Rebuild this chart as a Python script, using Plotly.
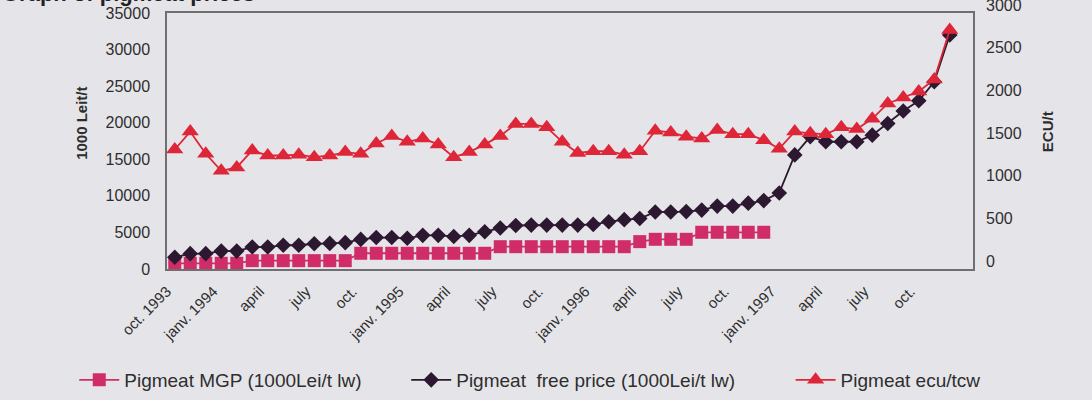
import plotly.graph_objects as go

# ---- data ----
months = list(range(51))  # Oct 1993 ... Dec 1997, monthly
tick_pos = [0, 3, 6, 9, 12, 15, 18, 21, 24, 27, 30, 33, 36, 39, 42, 45, 48]
tick_labels = ["oct. 1993", "janv. 1994", "april", "july", "oct.",
               "janv. 1995", "april", "july", "oct.", "janv. 1996",
               "april", "july", "oct.", "janv. 1997", "april", "july", "oct."]

mgp = [780, 780, 780, 780, 780,
       1140, 1140, 1140, 1140, 1140, 1140, 1140,
       2150, 2150, 2150, 2150, 2150, 2150, 2150, 2150, 2150,
       3050, 3050, 3050, 3050, 3050, 3050, 3050, 3050, 3050,
       3740, 4060, 4060, 4060,
       5020, 5020, 5020, 5020, 5020]

free_price = [1600, 2100, 2100, 2450, 2450, 3000, 3000, 3250, 3250, 3450,
              3500, 3600, 4050, 4300, 4300, 4200, 4600, 4600, 4450, 4600,
              5100, 5600, 5950, 6000, 6000, 6000, 6000, 6100, 6450, 6750,
              6900, 7800, 7800, 7850, 8050, 8600, 8600, 9000, 9350, 10400,
              15600, 18100, 17400, 17400, 17400, 18300, 19900, 21600, 23000, 25600,
              32000]

ecu = [1400, 1610, 1350, 1150, 1190, 1390, 1330, 1330, 1340, 1310,
       1330, 1370, 1350, 1470, 1560, 1490, 1530, 1460, 1310, 1370,
       1460, 1560, 1700, 1700, 1660, 1490, 1360, 1380, 1380, 1340,
       1380, 1620, 1600, 1550, 1530, 1630, 1580, 1580, 1510, 1410,
       1610, 1590, 1580, 1660, 1640, 1760, 1940, 2010, 2080, 2220,
       2800]

left_ticks = [0, 5000, 10000, 15000, 20000, 25000, 30000, 35000]
left_tick_text = ["0", "5000", "10000", "15000", "20000", "25000", "30000", "35000"]
right_ticks = [0, 500, 1000, 1500, 2000, 2500, 3000]
right_tick_text = ["0", "500", "1000", "1500", "2000", "2500", "3000"]

series_names = ["Pigmeat MGP (1000Lei/t lw)",
                "Pigmeat  free price (1000Lei/t lw)",
                "Pigmeat ecu/tcw"]

# ---- style ----
BG = "#e5e5e9"
TXT = "#2e2e2e"
AXC = "#6f6f6f"
FONT = "Liberation Sans, Arial, sans-serif"
C_MGP = "#d02c68"
C_FREE = "#2c1830"
C_ECU = "#de2639"

fig = go.Figure()

fig.add_trace(go.Scatter(
    x=months[:len(mgp)], y=mgp, name=series_names[0], mode="lines+markers",
    line=dict(color=C_MGP, width=1.8),
    marker=dict(symbol="square", size=13, color=C_MGP),
    legend="legend"))

fig.add_trace(go.Scatter(
    x=months, y=free_price, name=series_names[1], mode="lines+markers",
    line=dict(color=C_FREE, width=1.8),
    marker=dict(symbol="diamond", size=12, color=C_FREE),
    legend="legend2"))

fig.add_trace(go.Scatter(
    x=months, y=ecu, name=series_names[2], mode="lines+markers",
    line=dict(color=C_ECU, width=1.8),
    marker=dict(symbol="triangle-up", size=15, color=C_ECU),
    yaxis="y2", legend="legend3"))

leg_common = dict(orientation="h", xref="container", yref="container",
                  yanchor="middle", xanchor="left", y=0.05,
                  bgcolor="rgba(0,0,0,0)", borderwidth=0,
                  font=dict(family=FONT, size=19, color=TXT), itemwidth=40)

fig.update_layout(
    width=1092, height=400,
    margin=dict(l=167, r=119, t=13, b=131, autoexpand=False),
    paper_bgcolor=BG, plot_bgcolor=BG,
    font=dict(family=FONT, color=TXT),
    showlegend=True,
    legend=dict(leg_common, x=0.068),
    legend2=dict(leg_common, x=0.372),
    legend3=dict(leg_common, x=0.724),
    xaxis=dict(
        range=[-0.5, 51.5], tickmode="array", tickvals=tick_pos,
        ticktext=tick_labels, tickangle=-45, ticks="", automargin=False,
        tickfont=dict(family=FONT, size=15, color=TXT),
        ticklabelstandoff=6, ticklabelshift=-8,
        showgrid=False, zeroline=False, showline=True, mirror=True,
        linecolor=AXC, linewidth=1.5),
    yaxis=dict(
        range=[0, 35000], tickmode="array", tickvals=left_ticks,
        ticktext=left_tick_text, ticks="", automargin=False,
        tickfont=dict(family=FONT, size=16, color=TXT),
        ticklabelstandoff=12, ticklabeloverflow="allow",
        showgrid=False, zeroline=False, showline=True, mirror=True,
        linecolor=AXC, linewidth=1.5),
    yaxis2=dict(
        range=[0, 3000], tickmode="array", tickvals=right_ticks,
        ticktext=right_tick_text, ticks="", automargin=False,
        overlaying="y", side="right",
        tickfont=dict(family=FONT, size=16, color=TXT),
        ticklabelstandoff=12, ticklabelshift=-8, ticklabeloverflow="allow",
        showgrid=False, zeroline=False, showline=False),
    annotations=[
        dict(text="<b>1000 Leit/t</b>", textangle=-90, xref="paper", yref="paper",
             x=-0.107, y=0.57, xanchor="center", yanchor="middle", showarrow=False,
             font=dict(family=FONT, size=15, color=TXT)),
        dict(text="<b>ECU/t</b>", textangle=-90, xref="paper", yref="paper",
             x=1.092, y=0.535, xanchor="center", yanchor="middle", showarrow=False,
             font=dict(family=FONT, size=15, color=TXT)),
        dict(text="<b>Graph of pigmeat prices</b>", xref="paper", yref="paper",
             x=-0.207, y=1.0508, xanchor="left", yanchor="middle", yshift=6,
             showarrow=False, font=dict(family=FONT, size=22, color="#222")),
    ],
)

fig.write_html("out.html",
               config={"displayModeBar": False},
               post_script="document.body.style.margin='0';"
                           "document.body.style.background='#e5e5e9';")
